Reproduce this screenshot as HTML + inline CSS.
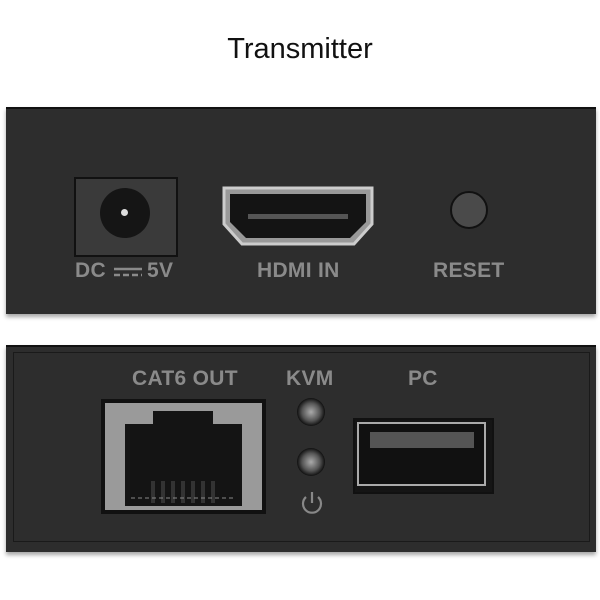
<!DOCTYPE html>
<html><head><style>
body{margin:0;width:600px;height:600px;background:#fff;position:relative;overflow:hidden;font-family:"Liberation Sans",sans-serif}
.a{position:absolute}
.lbl{position:absolute;color:#8a8a8a;font-weight:bold;font-size:21px;letter-spacing:0.3px;white-space:nowrap}
</style></head><body>
<div class="a" style="left:0;width:600px;text-align:center;top:33px;font-size:29px;color:#111">Transmitter</div>

<div class="a" style="left:6px;top:107px;width:590px;height:205px;background:#2d2d2d;border-top:2px solid #111;box-shadow:0 3px 4px rgba(0,0,0,.35)"></div>
<div class="a" style="left:74px;top:177px;width:100px;height:76px;background:#3a3a3a;border:2px solid #111"></div>
<div class="a" style="left:100px;top:188px;width:50px;height:50px;border-radius:50%;background:#151515"></div>
<div class="a" style="left:121px;top:209px;width:7px;height:7px;border-radius:50%;background:#ddd"></div>
<svg class="a" style="left:220px;top:184px" width="160" height="64">
<path d="M4 4 H152 V40 L134 60 H22 L4 40 Z" fill="#999" stroke="#ccc" stroke-width="3"/>
<path d="M10 10 H146 V38 L130 54 H26 L10 38 Z" fill="#141414"/>
<rect x="28" y="30" width="100" height="5" fill="#555"/>
</svg>
<div class="a" style="left:450px;top:191px;width:34px;height:34px;border-radius:50%;background:#4a4a4a;border:2px solid #111"></div>
<div class="lbl" style="left:75px;top:259px">DC</div>
<svg class="a" style="left:112px;top:266px" width="32" height="12"><line x1="2" y1="3" x2="30" y2="3" stroke="#8a8a8a" stroke-width="2.5"/><line x1="2" y1="9" x2="30" y2="9" stroke="#8a8a8a" stroke-width="2.5" stroke-dasharray="6 3"/></svg>
<div class="lbl" style="left:147px;top:259px">5V</div>
<div class="lbl" style="left:257px;top:259px">HDMI IN</div>
<div class="lbl" style="left:433px;top:259px">RESET</div>

<div class="a" style="left:6px;top:345px;width:590px;height:205px;background:#2d2d2d;border-top:2px solid #111;box-shadow:0 3px 4px rgba(0,0,0,.35)"></div>
<div class="a" style="left:13px;top:352px;width:575px;height:188px;border:1px solid #1a1a1a"></div>
<div class="lbl" style="left:132px;top:367px">CAT6 OUT</div>
<div class="lbl" style="left:286px;top:367px">KVM</div>
<div class="lbl" style="left:408px;top:367px">PC</div>
<div class="a" style="left:101px;top:399px;width:165px;height:115px;background:#111"></div>
<div class="a" style="left:105px;top:403px;width:157px;height:107px;background:#9a9a9a"></div>
<svg class="a" style="left:101px;top:399px" width="165" height="115">
<path d="M24 107 V25 H52 V12 H112 V25 H141 V107 Z" fill="#141414"/>
<g fill="#333"><rect x="50" y="82" width="4" height="22"/><rect x="60" y="82" width="4" height="22"/><rect x="70" y="82" width="4" height="22"/><rect x="80" y="82" width="4" height="22"/><rect x="90" y="82" width="4" height="22"/><rect x="100" y="82" width="4" height="22"/><rect x="110" y="82" width="4" height="22"/></g>
<line x1="30" y1="99" x2="135" y2="99" stroke="#888" stroke-dasharray="4 3"/>
</svg>
<div class="a" style="left:297px;top:398px;width:28px;height:28px;border-radius:50%;background:radial-gradient(circle,#aaa 0,#555 45%,#111 70%)"></div>
<div class="a" style="left:297px;top:448px;width:28px;height:28px;border-radius:50%;background:radial-gradient(circle,#aaa 0,#555 45%,#111 70%)"></div>
<svg class="a" style="left:299px;top:489px" width="26" height="28"><path d="M7 8 A9 9 0 1 0 19 8" fill="none" stroke="#888" stroke-width="2.2"/><line x1="13" y1="3" x2="13" y2="14" stroke="#888" stroke-width="2.2"/></svg>
<div class="a" style="left:353px;top:418px;width:137px;height:72px;background:#151515;border:2px solid #111"></div>
<div class="a" style="left:357px;top:422px;width:129px;height:64px;border:2px solid #aaa;box-sizing:border-box;background:#111"></div>
<div class="a" style="left:370px;top:432px;width:104px;height:16px;background:#555"></div>
</body></html>
